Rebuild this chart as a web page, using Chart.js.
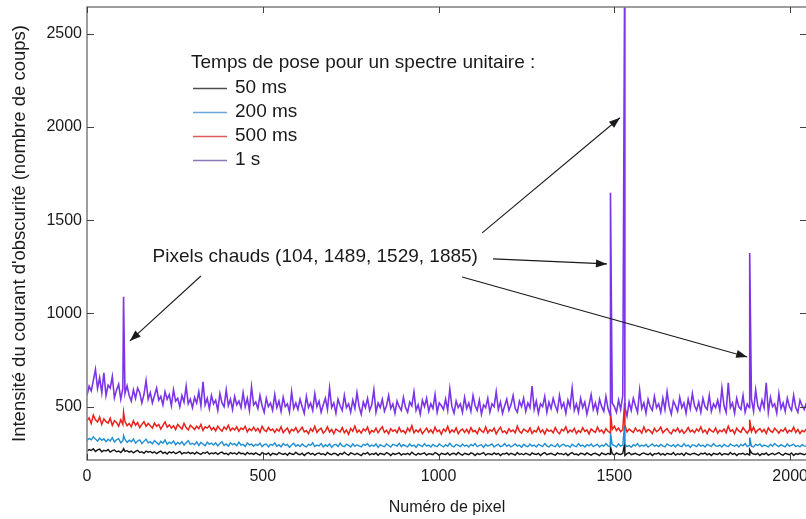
<!DOCTYPE html>
<html><head><meta charset="utf-8">
<script src="https://cdn.jsdelivr.net/npm/chart.js@4"></script>
<style>html,body{margin:0;padding:0;overflow:hidden;background:#fff}#wrap{width:808px;height:519px}</style>
</head><body><div id="wrap"><canvas id="c" width="808" height="519"></canvas></div>
<script>
// ---- data ----
const pixelStep = 6;
const pixels = Array.from({length: 342}, (_, i) => i * pixelStep); // pixel numbers 0..2046
const hotPixels = [104, 1489, 1529, 1885];
const xTicks = [0, 500, 1000, 1500, 2000];
const yTicks = [500, 1000, 1500, 2000, 2500];
const seriesLabels = ['50 ms', '200 ms', '500 ms', '1 s'];

const values1s = [
560,610,585,640,700,598,655,575,682,560,
615,600,662,548,590,620,540,598,570,612,
560,530,590,545,600,575,520,565,640,540,
575,520,560,600,535,555,510,580,540,565,
505,590,530,545,500,560,525,610,515,540,
495,550,520,580,505,634,510,545,490,560,
515,535,480,570,520,500,590,505,540,485,
555,510,530,495,575,500,545,480,607,510,
525,490,560,505,470,545,500,520,480,565,
495,530,475,550,500,515,470,580,490,520,
485,540,500,465,555,495,520,480,570,500,
530,470,510,545,485,600,495,520,465,540,
505,480,560,495,515,470,535,490,575,500,
460,525,495,545,480,510,590,470,520,495,
540,475,505,560,490,515,465,530,500,480,
550,495,470,525,505,580,480,510,460,535,
500,545,475,515,490,565,470,520,505,485,
540,480,595,500,465,530,495,515,470,550,
490,520,475,560,505,480,535,460,510,495,
545,470,515,500,580,485,525,465,505,540,
480,510,560,490,470,530,500,545,475,520,
495,610,485,530,465,515,500,555,470,525,
490,545,505,475,560,495,520,465,535,500,
600,480,515,470,545,495,525,460,510,565,
485,520,470,540,500,475,555,490,455,520,
500,470,535,485,560,495,450,525,480,545,
505,470,590,490,520,465,540,500,480,555,
495,515,470,545,485,580,500,460,530,505,
475,550,495,520,465,540,490,570,505,480,
525,470,545,500,485,560,475,515,495,535,
480,600,505,470,628,495,520,465,545,500,
485,560,470,515,495,540,475,590,505,480,
535,495,628,470,550,500,515,465,570,490,
520,475,545,500,480,560,495,470,535,505,485,520];

const values500 = [
425,440,410,455,430,418,445,405,435,420,
412,438,400,425,415,395,430,405,420,398,
410,392,425,400,415,388,405,420,395,410,
398,385,412,395,405,380,400,418,390,402,
385,398,378,405,392,380,410,388,375,400,
390,378,395,382,405,372,392,385,398,375,
388,370,395,380,368,392,378,400,372,385,
375,392,368,385,378,395,365,382,372,390,
370,384,362,395,375,366,388,372,380,362,
380,368,392,360,375,385,358,378,370,388,
362,375,390,365,372,355,382,368,395,362,
376,385,358,370,392,364,378,355,380,372,
365,388,360,375,352,383,368,396,362,374,
358,380,370,390,356,372,365,385,360,378,
392,362,374,355,382,368,376,360,388,365,
372,356,385,368,398,360,375,364,380,355,
370,385,362,376,358,390,366,374,352,380,
368,394,360,375,364,386,355,372,380,362,
378,358,388,366,372,355,384,370,362,392,
360,376,368,385,354,374,390,362,370,356,
382,366,375,360,395,368,358,380,372,364,
386,356,372,365,390,362,376,354,380,368,
374,360,388,366,355,378,370,392,360,375,
365,384,356,372,362,388,368,376,354,380,
370,362,390,366,375,358,382,368,360,378,
395,372,385,366,378,400,365,380,370,362,
386,368,375,358,392,364,378,370,356,384,
366,374,390,360,372,382,364,355,378,368,
385,362,376,358,370,388,365,374,360,380,
368,392,362,375,356,382,370,364,386,358,
374,366,380,360,395,368,376,355,384,370,
362,388,372,358,376,366,390,360,374,382,
364,378,356,386,370,362,384,372,358,376,
368,385,360,374,366,390,362,378,356,372,365,380];

const values200 = [
318,330,322,338,326,315,332,320,328,312,
325,316,334,310,322,328,306,318,324,308,
320,312,326,305,316,322,302,314,326,306,
312,300,318,308,296,314,304,322,298,310,
302,316,296,308,300,312,294,306,318,298,
304,296,312,292,308,300,290,310,298,305,
294,306,290,302,312,292,300,288,306,296,
302,290,310,294,298,286,306,295,300,288,
298,292,304,286,296,300,284,298,292,306,
288,296,284,302,292,298,282,294,304,288,
296,286,300,290,284,298,292,306,286,294,
290,302,284,296,288,300,282,294,298,286,
304,290,286,298,292,284,300,288,296,290,
284,298,292,302,286,294,288,300,282,296,
290,286,300,292,284,298,294,288,304,286,
296,290,284,300,288,294,282,298,292,286,
302,288,294,284,298,290,286,300,292,284,
296,288,304,290,284,298,292,286,300,288,
294,284,298,290,302,286,292,296,282,298,
288,294,300,284,292,298,286,290,302,288,
296,284,292,300,288,294,282,298,290,286,
300,288,294,284,298,292,286,302,290,284,
296,290,286,300,284,294,298,288,292,282,
298,290,286,302,288,294,284,296,290,300,
286,292,298,284,294,288,302,290,286,296,
292,284,300,288,294,298,286,292,282,296,
290,302,286,294,288,298,284,292,300,288,
294,286,298,290,284,300,292,288,296,284,
298,290,286,302,288,294,282,296,292,286,
300,288,294,284,298,292,286,302,290,288,
294,284,298,290,286,300,292,288,296,284,
298,290,302,286,294,288,284,298,292,300,
286,294,290,284,298,288,302,292,286,296,
290,284,300,288,294,298,286,292,284,296,290,288];

const values50 = [
262,270,265,274,260,268,272,258,266,262,
270,256,264,268,258,262,254,266,260,264,
256,262,252,260,266,254,258,250,262,256,
260,252,258,248,256,262,250,256,246,258,
252,258,248,254,260,246,254,250,256,248,
254,246,256,250,244,254,250,258,246,252,
248,254,244,252,256,246,250,242,254,248,
252,244,256,248,250,242,254,246,250,244,
252,246,240,254,248,244,252,238,250,246,
242,254,248,244,250,240,252,246,244,256,
246,242,250,238,248,254,244,250,240,248,
252,244,248,240,254,246,242,250,248,238,
250,244,256,246,240,252,248,242,250,244,
238,250,246,254,242,248,244,252,240,250,
246,242,254,248,238,250,244,248,252,240,
248,244,250,242,256,246,240,250,244,248,
252,240,248,246,242,254,248,238,250,246,
244,252,240,248,250,242,254,246,240,250,
246,242,252,248,238,250,244,248,254,240,
248,246,242,252,244,250,238,248,246,252,
242,250,246,240,254,244,248,242,250,246,
240,252,246,244,250,238,248,254,242,246,
250,244,240,252,246,248,242,250,238,248,
254,244,246,240,250,248,242,252,246,240,
248,250,244,238,252,246,242,250,244,248,
240,252,246,244,250,238,248,254,242,246,
250,244,240,248,252,246,242,250,238,248,
246,252,242,248,240,250,246,244,254,240,
248,244,250,238,252,246,242,248,250,244,
240,250,246,252,242,248,238,250,246,244,
252,240,248,246,242,254,244,250,238,248,
246,250,242,248,240,252,246,244,250,238,
248,244,252,240,246,250,242,248,254,244,
240,250,246,242,252,238,248,244,250,246,242,248];

const hot1s  = [1090, 1647, 2700, 1325];
const hot500 = [470, 470, 520, 430];
const hot200 = [345, 360, 400, 335];
const hot50  = [275, 285, 300, 270];

// ---- build ----
function buildSeries(values, hotValues) {
  const pts = pixels.map((p, i) => ({x: p, y: values[i]}));
  hotPixels.forEach((p, k) => pts.push({x: p, y: hotValues[k]}));
  pts.sort((a, b) => a.x - b.x);
  return pts;
}

const FONT = '"Liberation Sans", Arial, Helvetica, sans-serif';
Chart.defaults.font.family = FONT;

const colors = {s50: '#141414', s200: '#1f8fd2', s500: '#e8231c', s1: '#7b34e8'};
const legendColors = ['#4d4d4d', '#6fa6da', '#df5b5b', '#8a78b4'];

function arrow(ctx, x1, y1, x2, y2) {
  ctx.beginPath(); ctx.moveTo(x1, y1); ctx.lineTo(x2, y2); ctx.stroke();
  const ang = Math.atan2(y2 - y1, x2 - x1), L = 11, W = 4;
  ctx.beginPath();
  ctx.moveTo(x2, y2);
  ctx.lineTo(x2 - L * Math.cos(ang) + W * Math.sin(ang), y2 - L * Math.sin(ang) - W * Math.cos(ang));
  ctx.lineTo(x2 - L * Math.cos(ang) - W * Math.sin(ang), y2 - L * Math.sin(ang) + W * Math.cos(ang));
  ctx.closePath(); ctx.fill();
}

const overlay = {
  id: 'overlay',
  afterDraw(chart) {
    const {ctx, chartArea: a, scales: {x, y}} = chart;
    ctx.save();
    // frame
    ctx.strokeStyle = '#858585'; ctx.lineWidth = 1.6;
    ctx.strokeRect(a.left, a.top, a.right - a.left, a.bottom - a.top);
    // inward ticks
    ctx.strokeStyle = '#404040'; ctx.lineWidth = 1;
    const seg = (x1, y1, x2, y2) => { ctx.beginPath(); ctx.moveTo(x1, y1); ctx.lineTo(x2, y2); ctx.stroke(); };
    xTicks.forEach(v => { const px = Math.round(x.getPixelForValue(v)) + 0.5; seg(px, a.bottom, px, a.bottom - 6); seg(px, a.top, px, a.top + 6); });
    yTicks.forEach(v => { const py = Math.round(y.getPixelForValue(v)) + 0.5; seg(a.left, py, a.left + 7, py); seg(a.right, py, a.right - 7, py); });

    // legend
    ctx.fillStyle = '#1a1a1a';
    ctx.textBaseline = 'middle'; ctx.textAlign = 'left';
    ctx.font = '19px ' + FONT;
    ctx.fillText('Temps de pose pour un spectre unitaire :', 191, 63);
    const ly = [88, 112, 136, 160];
    seriesLabels.forEach((lab, i) => {
      ctx.strokeStyle = legendColors[i]; ctx.lineWidth = 1.3;
      seg(193, ly[i] + 0.5, 227, ly[i] + 0.5);
      ctx.fillText(lab, 235, ly[i]);
    });

    // annotation
    ctx.textAlign = 'right';
    ctx.fillText('Pixels chauds (104, 1489, 1529, 1885)', x.getPixelForValue(1112), y.getPixelForValue(1304));
    ctx.strokeStyle = '#1a1a1a'; ctx.fillStyle = '#1a1a1a'; ctx.lineWidth = 1.1;
    const P = (vx, vy) => [x.getPixelForValue(vx), y.getPixelForValue(vy)];
    const arrows = [
      [[324, 1201], [122, 853]],
      [[1124, 1432], [1516, 2050]],
      [[1155, 1293], [1479, 1266]],
      [[1067, 1196], [1878, 767]]
    ];
    arrows.forEach(([s, e]) => { const [x1, y1] = P(s[0], s[1]); const [x2, y2] = P(e[0], e[1]); arrow(ctx, x1, y1, x2, y2); });
    ctx.restore();
  }
};

const ds = (label, data, color, w) => ({label, data, borderColor: color, borderWidth: w, pointRadius: 0, tension: 0, fill: false});

new Chart(document.getElementById('c'), {
  type: 'line',
  data: {
    datasets: [
      ds('1 s', buildSeries(values1s, hot1s), colors.s1, 1.6),
      ds('500 ms', buildSeries(values500, hot500), colors.s500, 1.5),
      ds('200 ms', buildSeries(values200, hot200), colors.s200, 1.4),
      ds('50 ms', buildSeries(values50, hot50), colors.s50, 1.4)
    ]
  },
  options: {
    responsive: false, animation: false, devicePixelRatio: 1,
    parsing: false,
    layout: {autoPadding: false, padding: {left: 0, top: 7, right: 1, bottom: 0}},
    plugins: {legend: {display: false}, tooltip: {enabled: false}},
    scales: {
      x: {
        type: 'linear', min: 0, max: 2048,
        grid: {display: false, drawTicks: false},
        border: {display: false},
        afterBuildTicks: s => { s.ticks = xTicks.map(v => ({value: v})); },
        afterFit: s => { s.height = 59; s.paddingLeft = 0; s.paddingRight = 0; },
        ticks: {color: '#1a1a1a', font: {size: 16}, padding: 7, maxRotation: 0, autoSkip: false, callback: v => String(v)},
        title: {display: true, text: 'Numéro de pixel', color: '#1a1a1a', font: {size: 16}, padding: {top: 0, bottom: 2}}
      },
      y: {
        type: 'linear', min: 214, max: 2644,
        grid: {display: false, drawTicks: false},
        border: {display: false},
        afterBuildTicks: s => { s.ticks = yTicks.map(v => ({value: v})); },
        afterFit: s => { s.width = 87; s.paddingTop = 0; s.paddingBottom = 0; },
        ticks: {color: '#1a1a1a', font: {size: 16}, padding: 5, autoSkip: false, callback: v => String(v)},
        title: {display: true, text: "Intensité du courant d'obscurité (nombre de coups)", color: '#1a1a1a', font: {size: 18.5}, padding: {top: 9, bottom: 0}}
      }
    }
  },
  plugins: [overlay]
});
</script>
</body></html>
